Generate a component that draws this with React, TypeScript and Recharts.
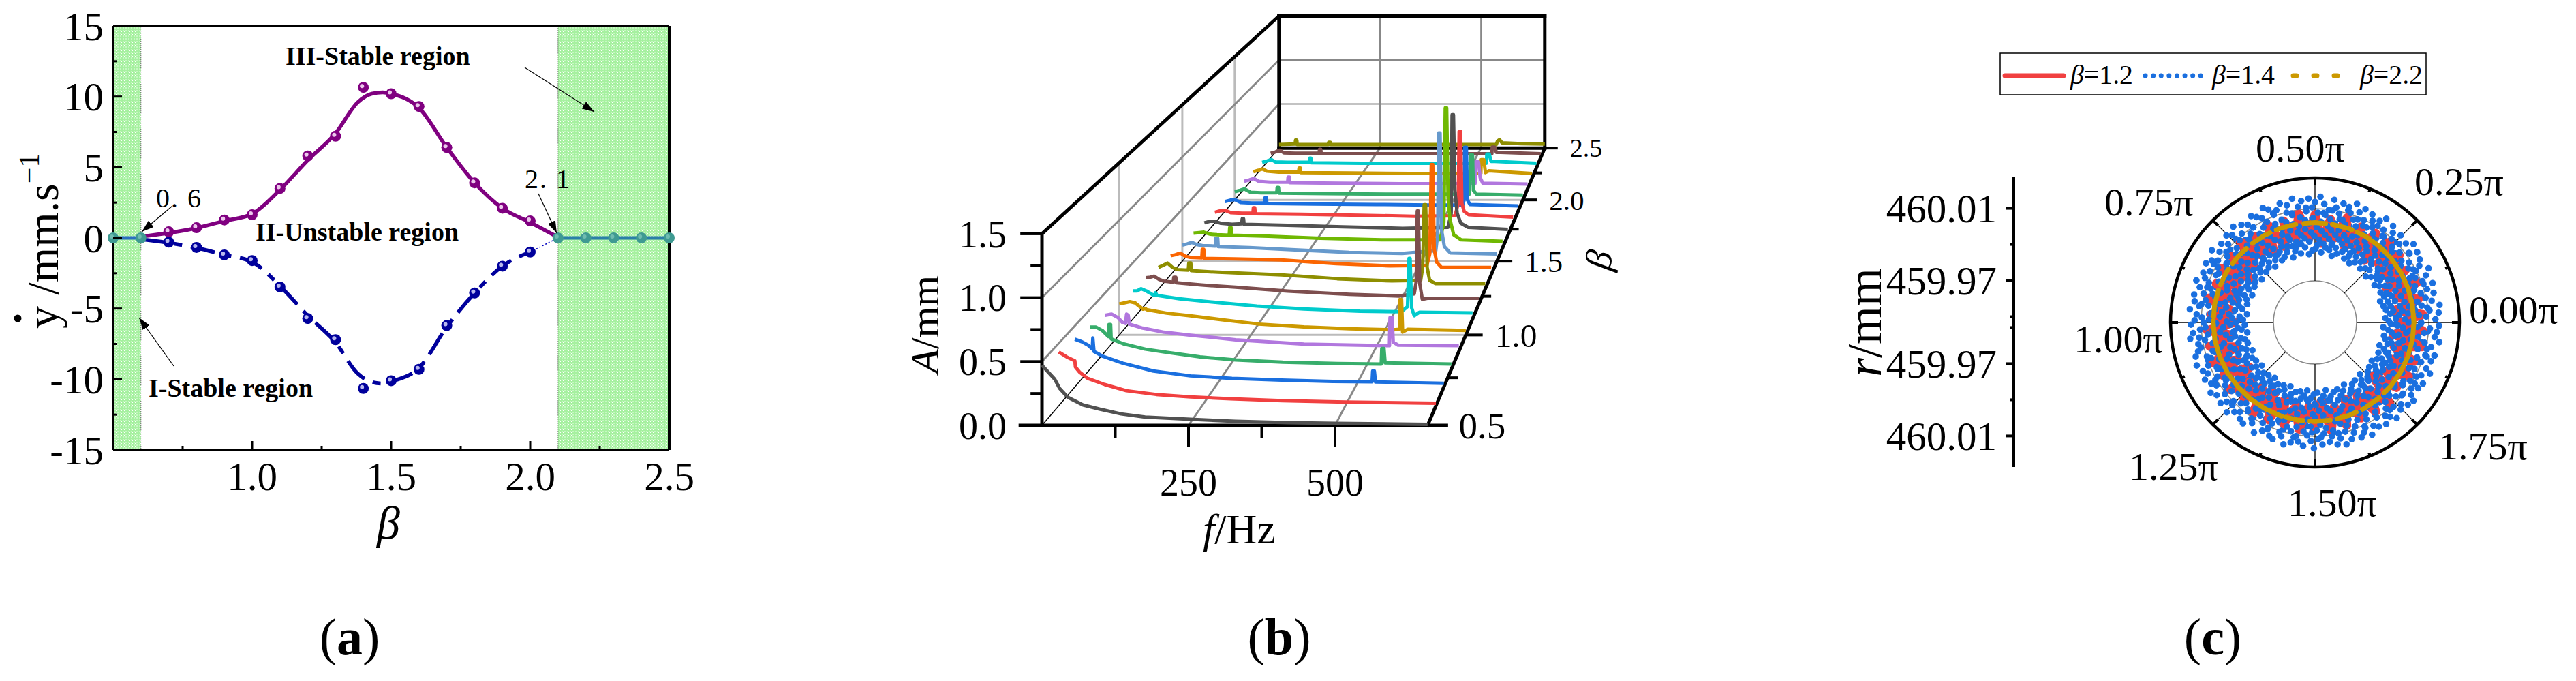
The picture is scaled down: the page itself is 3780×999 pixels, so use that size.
import React from 'react';
import {
  ComposedChart, LineChart, Line, XAxis, YAxis, ReferenceArea,
  RadarChart, Radar, PolarGrid, PolarAngleAxis, PolarRadiusAxis, Legend,
} from 'recharts';

const SERIF = '"Liberation Serif", "Times New Roman", serif';

// ---------- panel (a): phase-plane velocity against beta ----------
const betaPts = [0.7, 0.8, 0.9, 1.0, 1.1, 1.2, 1.3, 1.4, 1.5, 1.6, 1.7, 1.8, 1.9, 2.0];
const upperPts = [0.43, 0.72, 1.27, 1.64, 3.5, 5.8, 7.2, 10.65, 10.2, 9.3, 6.4, 3.9, 2.1, 1.2];
const lowerPts = [-0.3, -0.67, -1.2, -1.6, -3.47, -5.7, -7.2, -10.65, -10.1, -9.3, -6.2, -3.9, -2.0, -1.0];

const betaFit = [0.6, 0.7, 0.8, 0.9, 1.0, 1.1, 1.2, 1.3, 1.38, 1.43, 1.47, 1.5, 1.6, 1.7, 1.8, 1.9, 2.0, 2.1];
const upperFit = [0.1, 0.35, 0.7, 1.2, 1.7, 3.4, 5.5, 7.4, 9.6, 10.2, 10.3, 10.2, 9.2, 6.4, 3.9, 2.1, 1.1, 0.05];
const lowerFit = [-0.1, -0.35, -0.7, -1.2, -1.7, -3.4, -5.5, -7.4, -9.6, -10.2, -10.3, -10.15, -9.2, -6.3, -3.9, -2.0, -1.0];

const stableBeta = [0.5, 0.6, 2.1, 2.2, 2.3, 2.4, 2.5];
const stableVal = [0, 0, 0, 0, 0, 0, 0];

const betaAxisTicks = [0.5, 0.75, 1.0, 1.25, 1.5, 1.75, 2.0, 2.25, 2.5];
const velAxisTicks = [-15, -12.5, -10, -7.5, -5, -2.5, 0, 2.5, 5, 7.5, 10, 12.5, 15];

const zip = (xs: number[], ys: number[]) => ys.map((y, i) => ({ x: xs[i], y }));

const ball = (color: string, glint: string) => (p: any) => (
  <g key={p.index}>
    <circle cx={p.cx} cy={p.cy} r={8} fill={color} />
    <circle cx={p.cx - 2} cy={p.cy - 2} r={3} fill={glint} />
  </g>
);

const bottomTick = (p: any) => {
  const major = Number.isInteger(p.payload.value * 2);
  const show = major && p.payload.value > 0.5;
  return (
    <g>
      <line x1={p.x} x2={p.x} y1={p.y} y2={p.y - (major ? 13 : 6)} stroke="#000" strokeWidth={3} />
      {show && (
        <text x={p.x} y={p.y + 59} textAnchor="middle" fontFamily={SERIF} fontSize={59} fill="#000">
          {p.payload.value.toFixed(1)}
        </text>
      )}
    </g>
  );
};
const topTick = (p: any) => {
  const major = Number.isInteger(p.payload.value * 2);
  return <line x1={p.x} x2={p.x} y1={p.y} y2={p.y + (major ? 13 : 6)} stroke="#000" strokeWidth={3} />;
};
const leftTick = (p: any) => {
  const major = Number.isInteger(p.payload.value);
  return (
    <g>
      <line x1={p.x} x2={p.x + (major ? 13 : 6)} y1={p.y} y2={p.y} stroke="#000" strokeWidth={3} />
      {major && (
        <text x={p.x - 14} y={p.y} dy="0.35em" textAnchor="end" fontFamily={SERIF} fontSize={59} fill="#000">
          {p.payload.value}
        </text>
      )}
    </g>
  );
};
const rightTick = (p: any) => {
  const major = Number.isInteger(p.payload.value);
  return <line x1={p.x} x2={p.x - (major ? 13 : 6)} y1={p.y} y2={p.y} stroke="#000" strokeWidth={3} />;
};

function PanelA() {
  return (
    <div style={{ position: 'absolute', left: 0, top: 0 }}>
      <ComposedChart width={1050} height={999} margin={{ top: 0, right: 0, bottom: 0, left: 0 }}>
        <defs>
          <pattern id="hatch" width="4" height="4" patternUnits="userSpaceOnUse">
            <rect width="4" height="4" fill="#a6f0a0" />
            <rect width="2" height="2" fill="#c6f8c2" />
            <rect x="2" y="2" width="1" height="1" fill="#ffffff" />
          </pattern>
        </defs>
        <XAxis dataKey="x" type="number" domain={[0.5, 2.5]} ticks={betaAxisTicks} height={339} tick={bottomTick}
          tickLine={false} tickSize={0} tickMargin={0} interval={0} axisLine={{ stroke: '#000', strokeWidth: 4 }} />
        <XAxis xAxisId="top" orientation="top" dataKey="x" type="number" domain={[0.5, 2.5]} ticks={betaAxisTicks} height={38}
          tick={topTick} tickLine={false} tickSize={0} tickMargin={0} interval={0} axisLine={{ stroke: '#000', strokeWidth: 3 }} />
        <YAxis type="number" domain={[-15, 15]} ticks={velAxisTicks} width={166} tick={leftTick}
          tickLine={false} tickSize={0} tickMargin={0} interval={0} axisLine={{ stroke: '#000', strokeWidth: 3 }} />
        <YAxis yAxisId="right" orientation="right" type="number" domain={[-15, 15]} ticks={velAxisTicks} width={68} tick={rightTick}
          tickLine={false} tickSize={0} tickMargin={0} interval={0} axisLine={{ stroke: '#000', strokeWidth: 4 }} />
        <ReferenceArea x1={0.5} x2={0.6} y1={-15} y2={15} fill="url(#hatch)" fillOpacity={1} stroke="#444" strokeDasharray="1 2" />
        <ReferenceArea x1={2.1} x2={2.5} y1={-15} y2={15} fill="url(#hatch)" fillOpacity={1} stroke="#444" strokeDasharray="1 2" />
        <Line data={zip(betaFit, upperFit)} dataKey="y" type="monotone" stroke="#800080" strokeWidth={5.5} dot={false} isAnimationActive={false} />
        <Line data={zip(betaFit.slice(0, lowerFit.length), lowerFit)} dataKey="y" type="monotone" stroke="#00009c" strokeWidth={5.5}
          strokeDasharray="36 13 12 13" dot={false} isAnimationActive={false} />
        <Line data={[{ x: 2.0, y: -1.0 }, { x: 2.1, y: 0 }]} dataKey="y" stroke="#0000c0" strokeWidth={1.5} strokeDasharray="2 3" dot={false} isAnimationActive={false} />
        <Line data={zip([0.5, 0.6], [0, 0])} dataKey="y" stroke="#2a6fc0" strokeWidth={5} dot={false} isAnimationActive={false} />
        <Line data={zip([2.1, 2.5], [0, 0])} dataKey="y" stroke="#2a7fa8" strokeWidth={5} dot={false} isAnimationActive={false} />
        <Line data={zip(betaPts, upperPts)} dataKey="y" stroke="none" dot={ball('#800080', '#ecc8ec')} isAnimationActive={false} />
        <Line data={zip(betaPts, lowerPts)} dataKey="y" stroke="none" dot={ball('#00009c', '#b8b8ee')} isAnimationActive={false} />
        <Line data={zip(stableBeta, stableVal)} dataKey="y" stroke="none" dot={ball('#3f9a92', '#6fbcb0')} isAnimationActive={false} />
      </ComposedChart>
    </div>
  );
}

// ---------- panel (b): spectrum waterfall, [f in Hz, A in mm] per beta ----------
const amp05 = [[0, .47], [10, .42], [22, .36], [30, .29], [44, .22], [70, .16], [98, .128], [135, .09], [176, .065], [253, .048], [330, .032], [420, .022], [500, .016], [658, .008]];
const amp06 = [[0, .43], [14, .39], [28, .36], [29, .31], [36, .27], [50, .22], [80, .17], [118, .12], [170, .09], [230, .07], [300, .055], [390, .04], [500, .03], [658, .02]];
const amp07 = [[0, .39], [12, .37], [24, .34], [31, .31], [32, .40], [34, .29], [50, .25], [85, .195], [140, .13], [206, .09], [280, .07], [368, .056], [460, .045], [530, .042], [531, .13], [534, .13], [536, .04], [658, .03]];
const amp08 = [[0, .35], [10, .35], [22, .32], [33, .27], [34, .37], [37, .37], [38, .25], [60, .21], [100, .165], [141, .137], [200, .10], [265, .074], [350, .056], [450, .045], [530, .04], [531, .17], [535, .17], [537, .05], [658, .04]];
const amp09 = [[0, .31], [12, .32], [24, .29], [32, .25], [38, .24], [40, .32], [43, .31], [45, .235], [70, .20], [110, .165], [159, .14], [243, .10], [370, .064], [470, .055], [529, .05], [530, .29], [534, .29], [536, .08], [545, .055], [658, .05]];
const amp10 = [[0, .27], [10, .28], [20, .29], [30, .28], [38, .25], [45, .225], [50, .23], [52, .22], [90, .19], [135, .167], [200, .13], [265, .095], [350, .07], [437, .054], [520, .045], [532, .05], [533, .31], [536, .31], [538, .025], [548, .05], [658, .04]];
const amp11 = [[0, .25], [8, .25], [16, .27], [26, .25], [37, .22], [42, .21], [44, .235], [47, .21], [90, .18], [156, .15], [240, .115], [331, .09], [440, .07], [520, .065], [532, .11], [535, .54], [537, .54], [540, .10], [545, .03], [555, .06], [658, .055]];
const amp12 = [[0, .235], [8, .24], [16, .25], [26, .22], [35, .205], [54, .195], [55, .24], [59, .24], [60, .19], [110, .17], [177, .15], [280, .115], [402, .085], [500, .07], [530, .09], [534, .2], [536, .84], [538, .84], [541, .18], [546, .04], [556, .05], [658, .05]];
const amp13 = [[0, .20], [10, .22], [18, .24], [28, .20], [38, .18], [60, .175], [61, .24], [65, .24], [66, .17], [120, .155], [248, .13], [360, .095], [470, .075], [528, .08], [532, .2], [535, .78], [538, .78], [541, .2], [546, .08], [558, .05], [658, .05]];
const amp14 = [[0, .18], [10, .19], [20, .205], [30, .175], [40, .165], [64, .16], [65, .24], [68, .24], [69, .155], [130, .15], [227, .14], [340, .105], [450, .085], [526, .09], [532, .2], [535, 1.04], [538, 1.04], [541, .24], [546, .12], [556, .07], [658, .07]];
const amp15 = [[0, .155], [10, .165], [20, .18], [30, .16], [42, .15], [69, .145], [70, .22], [74, .22], [75, .14], [140, .13], [250, .105], [349, .085], [460, .075], [530, .1], [534, .26], [536, 1.23], [539, 1.23], [542, .3], [548, .14], [560, .08], [658, .07]];
const amp16 = [[0, .145], [12, .15], [22, .155], [36, .135], [50, .13], [76, .125], [77, .20], [80, .20], [81, .125], [160, .115], [270, .095], [400, .08], [525, .08], [533, .25], [536, 1.37], [539, 1.37], [542, .5], [546, .28], [554, .13], [570, .08], [658, .065]];
const amp17 = [[0, .125], [12, .14], [22, .14], [36, .12], [60, .11], [81, .115], [82, .165], [85, .165], [86, .11], [180, .10], [300, .085], [430, .07], [528, .08], [535, .22], [537, 1.2], [540, 1.2], [543, .45], [548, .22], [556, .12], [572, .08], [658, .06]];
const amp18 = [[0, .11], [12, .125], [22, .13], [36, .105], [60, .1], [84, .1], [85, .155], [88, .155], [89, .095], [190, .09], [320, .08], [440, .07], [530, .075], [537, .2], [539, .93], [542, .93], [545, .2], [550, .12], [560, .085], [658, .06]];
const amp19 = [[0, .10], [12, .115], [22, .12], [36, .09], [60, .085], [89, .085], [90, .14], [93, .14], [94, .08], [200, .075], [340, .07], [460, .065], [534, .065], [537, .12], [538, .66], [542, .66], [544, .12], [550, .07], [658, .055]];
const amp20 = [[0, .085], [12, .10], [22, .115], [36, .08], [60, .075], [96, .075], [97, .13], [100, .13], [101, .07], [210, .065], [350, .06], [470, .06], [536, .06], [538, .47], [543, .47], [545, .10], [552, .06], [658, .05]];
const amp21 = [[0, .08], [12, .095], [22, .11], [34, .08], [60, .07], [101, .07], [102, .125], [105, .125], [106, .065], [220, .06], [360, .055], [480, .055], [536, .055], [538, .29], [544, .29], [548, .12], [554, .06], [658, .05]];
const amp22 = [[0, .07], [12, .085], [22, .10], [32, .075], [60, .065], [107, .065], [108, .11], [111, .11], [112, .06], [230, .055], [370, .05], [490, .05], [537, .05], [538, .20], [544, .20], [548, .06], [556, .08], [658, .05]];
const amp23 = [[0, .06], [12, .075], [22, .09], [32, .065], [60, .06], [113, .06], [114, .105], [117, .105], [118, .055], [240, .05], [380, .05], [500, .05], [538, .05], [539, .15], [545, .15], [549, .07], [558, .07], [658, .05]];
const amp24 = [[0, .05], [12, .065], [22, .085], [32, .055], [60, .05], [118, .05], [119, .095], [122, .095], [123, .045], [250, .045], [390, .045], [510, .045], [539, .045], [540, .12], [546, .12], [550, .06], [560, .06], [658, .045]];
const amp25 = [[0, .04], [40, .045], [41, .09], [44, .09], [45, .04], [122, .04], [123, .065], [127, .065], [128, .04], [260, .04], [400, .04], [520, .04], [538, .04], [541, .08], [546, .095], [552, .06], [600, .05], [658, .045]];

const spectra = [amp05, amp06, amp07, amp08, amp09, amp10, amp11, amp12, amp13, amp14, amp15, amp16, amp17, amp18, amp19, amp20, amp21, amp22, amp23, amp24, amp25];
const palette = ['#515151', '#F14040', '#1A6FDF', '#37AD6B', '#B177DE', '#CC9900', '#00CBCC', '#7D4E4E', '#8E8E00', '#FB6501', '#6699CC', '#6FB802'];

const F_MAX = 658;
const freqTicks = [125, 250, 375, 500];
const ampTicks = [0, 0.25, 0.5, 0.75, 1.0, 1.25, 1.5];
const betaTicks = [0.5, 0.75, 1.0, 1.25, 1.5, 1.75, 2.0, 2.25, 2.5];

// box edges and grid lines, each end as [f, beta, A]
const boxEdges = [
  [[-37, 0.5, 0], [690, 0.5, 0]], [[0, 0.5, 0], [0, 0.5, 1.5]], [[0, 0.5, 1.5], [0, 2.5, 1.5]],
  [[F_MAX, 0.5, 0], [F_MAX, 2.5, 0]], [[0, 2.5, 0], [F_MAX, 2.5, 0]], [[0, 2.5, 0], [0, 2.5, 1.5]],
  [[0, 2.5, 1.5], [F_MAX, 2.5, 1.5]], [[F_MAX, 2.5, 0], [F_MAX, 2.5, 1.5]],
];
const darkGrid = [
  [[0, 0.5, 0.5], [0, 2.5, 0.5]], [[0, 0.5, 1], [0, 2.5, 1]],
  [[250, 0.5, 0], [250, 2.5, 0]], [[500, 0.5, 0], [500, 2.5, 0]],
  [[250, 2.5, 0], [250, 2.5, 1.5]], [[500, 2.5, 0], [500, 2.5, 1.5]],
  [[0, 2.5, 0.5], [F_MAX, 2.5, 0.5]], [[0, 2.5, 1], [F_MAX, 2.5, 1]],
];
const lightGrid = [
  [[0, 1, 0], [0, 1, 1.5]], [[0, 1.5, 0], [0, 1.5, 1.5]], [[0, 2, 0], [0, 2, 1.5]],
  [[0, 1, 0], [F_MAX, 1, 0]], [[0, 1.5, 0], [F_MAX, 1.5, 0]], [[0, 2, 0], [F_MAX, 2, 0]],
];

// oblique view with a vanishing point; gives chart coordinates in the front plane's own units
const PX_PER_HZ = 0.86;
const PX_PER_MM = 187.4;
const VP = { x: 1119 / PX_PER_HZ, y: (624 + 685) / PX_PER_MM };
const project = (f: number, beta: number, a: number) => {
  const s = 1 / (1 + 0.451 * (beta - 0.5) / 2);
  return { x: VP.x + (f - VP.x) * s, y: VP.y + (a - VP.y) * s, s };
};
const asRows = (seg: number[][]) => seg.map(([f, b, a]) => project(f, b, a));

const freqTick = (p: any) => {
  const major = p.payload.value % 250 === 0;
  return (
    <g>
      <line x1={p.x} x2={p.x} y1={p.y} y2={p.y + (major ? 31 : 18)} stroke="#000" strokeWidth={4} />
      {major && (
        <text x={p.x} y={p.y + 103} textAnchor="middle" fontFamily={SERIF} fontSize={56} fill="#000">
          {p.payload.value}
        </text>
      )}
    </g>
  );
};
const ampTick = (p: any) => {
  const major = Number.isInteger(p.payload.value * 2);
  return (
    <g>
      <line x1={p.x + (major ? 2.6 : 17.6)} x2={p.x + 34.4} y1={p.y} y2={p.y} stroke="#000" strokeWidth={4} />
      {major && (
        <text x={p.x - 17.6} y={p.y} dy="0.35em" textAnchor="end" fontFamily={SERIF} fontSize={56} fill="#000">
          {p.payload.value.toFixed(1)}
        </text>
      )}
    </g>
  );
};
const betaLabel = (p: any) => {
  const { beta, s } = p.payload;
  if (!Number.isInteger(beta * 2)) return <g key={p.index} />;
  return (
    <text key={p.index} x={p.cx + 18} y={p.cy} dy="0.35em" fontFamily={SERIF} fontSize={55 * s} fill="#000">
      {beta.toFixed(1)}
    </text>
  );
};

function PanelB() {
  const segLine = (seg: number[][], i: number, stroke: string, w: number, tag: string) => (
    <Line key={tag + i} data={asRows(seg)} dataKey="y" stroke={stroke} strokeWidth={w} strokeLinecap="square" dot={false} isAnimationActive={false} />
  );
  return (
    <div style={{ position: 'absolute', left: 1300, top: 0 }}>
      <ComposedChart width={1120} height={999} margin={{ top: 0, right: 90, bottom: 0, left: 0 }}>
        <XAxis dataKey="x" type="number" domain={[-40, 931.4]} ticks={freqTicks} height={375} tick={freqTick}
          tickLine={false} tickSize={0} tickMargin={0} axisLine={false} interval={0} />
        <YAxis type="number" domain={[0, 3.33]} ticks={ampTicks} width={194.6} tick={ampTick}
          tickLine={false} tickSize={0} tickMargin={0} axisLine={false} interval={0} />
        {lightGrid.map((s, i) => segLine(s, i, '#bbbbbb', 3, 'l'))}
        {darkGrid.map((s, i) => segLine(s, i, '#888888', i > 3 ? 2 : 3, 'd'))}
        {segLine([[0, 0.5, 0], [0, 2.5, 0]], 0, '#000000', 1.5, 'z')}
        {boxEdges.map((s, i) => segLine(s, i, '#000000', 5, 'b'))}
        {betaTicks.map((b) => (
          <Line key={'t' + b} data={asRows([[F_MAX, b, 0], [Number.isInteger(b * 2) ? 690 : F_MAX + 18, b, 0]])} dataKey="y"
            stroke="#000" strokeWidth={4} dot={false} isAnimationActive={false} />
        ))}
        <Line data={betaTicks.map((b) => ({ ...project(690, b, 0), beta: b }))} dataKey="y" stroke="none" dot={betaLabel} isAnimationActive={false} />
        {spectra.map((_, k) => {
          // draw from the back row forward
          const idx = spectra.length - 1 - k;
          const beta = 0.5 + idx * 0.1;
          return (
            <Line key={'w' + idx} data={spectra[idx].map(([f, a]) => project(f, beta, a))} dataKey="y"
              stroke={palette[idx % palette.length]} strokeWidth={5} strokeLinejoin="round" dot={false} isAnimationActive={false} />
          );
        })}
      </ComposedChart>
    </div>
  );
}

// ---------- panel (c): orbit radius in polar form, values are r - 459.97 in 1e-3 mm ----------
const R_ZERO = 459.97;
const R_MAX = 460.0274;
const orbit12 = [
  37, 22, 36, 24, 38, 21, 35, 23, 37, 25, 38, 21, 37, 24, 36, 22, 38, 25, 35, 21, 37, 24, 38, 25, 36, 22, 37, 23, 35, 25,
  38, 24, 36, 21, 37, 25, 36, 23, 38, 25, 35, 22, 37, 24, 37, 23, 38, 25, 36, 21, 37, 25, 35, 24, 38, 22, 37, 23, 36, 25,
  37, 24, 35, 21, 38, 25, 37, 23, 36, 24, 37, 25, 38, 21, 35, 25, 37, 24, 36, 23, 38, 21, 37, 25,
];
const orbit14 = [
  31, 18, 44, 27, 22, 39, 16, 35, 46, 24, 29, 41, 19, 33, 26, 47, 21, 37, 30, 17, 43, 25, 35, 20,
  40, 28, 16, 45, 32, 23, 38, 19, 42, 27, 34, 15, 46, 22, 30, 36, 18, 41, 25, 33, 20, 44, 28, 38,
  17, 35, 47, 23, 29, 40, 21, 32, 43, 26, 18, 37, 24, 45, 31, 16, 39, 27, 34, 22, 46, 19, 36, 29,
  42, 20, 33, 25, 47, 17, 38, 28, 23, 44, 31, 15, 35, 41, 26, 19, 37, 30, 45, 22, 33, 18, 40, 27,
  24, 43, 35, 16, 29, 46, 21, 38, 32, 19, 41, 26, 34, 23, 47, 28, 17, 36, 44, 20, 30, 39, 25, 15,
  42, 33, 22, 45, 27, 18, 37, 31, 40, 24, 16, 46, 29, 35, 21, 43, 26, 19, 38, 32, 47, 23, 28, 41,
  17, 34, 44, 25, 20, 36, 30, 15, 45, 27, 39, 22, 33, 18, 42, 29, 24, 46, 35, 19, 31, 40, 26, 21,
  37, 16, 43, 28, 33, 23, 47, 20, 38, 30, 18, 44, 25, 35, 41, 17, 27, 46, 32, 22, 39, 15, 34, 29,
  45, 24, 19, 36, 42, 26, 31, 21, 47, 28, 16, 38, 33, 23, 44, 20, 40, 30, 18, 35, 46, 25, 27, 37,
  15, 43, 32, 22, 29, 41, 19, 36, 45, 26, 23, 34, 47, 17, 39, 28, 21, 42, 31, 16, 37, 44, 24, 33,
  20, 46, 27, 35, 18, 40, 30, 22, 43, 25, 15, 38, 32, 45, 19, 29, 36, 23, 41, 17, 47, 26, 34, 21,
  39, 28, 44, 16, 31, 24, 46, 20, 37, 33, 18, 42, 27, 35, 22, 45, 30, 15, 40, 25, 19, 38, 43, 29,
  23, 47, 32, 17, 36, 26, 41, 21, 34, 44, 16, 28, 39, 24, 46, 20, 31, 37, 18, 42, 27, 33, 22, 45,
  15, 35, 30, 43, 25, 19, 40, 29, 47, 23, 17, 38, 32, 44, 21, 26, 36, 16, 41, 34, 24, 46, 28, 20,
  39, 31, 18, 45, 27, 37, 22, 42, 33, 15, 29, 47, 25, 35, 19, 43, 30, 23, 40, 17, 36, 44, 26, 21,
  32, 46, 24, 16, 38, 28, 41, 20, 34, 45, 18, 30, 37, 23, 47, 27, 15, 39, 33, 22, 43, 25, 35, 19,
  42, 29, 17, 44, 31, 21, 36, 46, 26, 16, 40, 33, 24, 38, 20, 47, 28, 34, 18, 41, 30, 23, 45, 15,
  37, 27, 43, 19, 35, 25, 46, 22, 32, 39, 17, 29, 44, 21, 36, 26, 42, 16, 33, 47, 24, 38, 20, 30,
  45, 18, 34, 28, 41, 15, 37, 23, 46, 31, 19, 43, 26, 35, 22, 40, 17, 29, 47, 25, 33, 20, 38, 44,
  16, 27, 36, 42, 21, 32, 24, 45, 18, 39, 30, 15, 46, 28, 35, 23, 41, 19, 34, 43, 26, 17, 37, 31,
  22, 47, 29, 20, 40, 33, 16, 44, 25, 36, 18, 42, 27, 38, 21, 45, 31, 15, 35, 46, 24, 30, 19, 41,
  34, 23, 43, 28, 17, 37, 47, 22, 32, 26, 39, 16, 45, 29, 20, 36, 41, 25, 18, 44, 33, 27, 15, 38,
  46, 21, 31, 40, 24, 19, 35, 43, 28, 17, 47, 30, 23, 37, 42, 16, 26, 34, 45, 20, 39, 29, 22, 36,
  18, 44, 32, 25, 41, 15, 38, 27, 46, 21, 33, 19, 43, 30, 24, 35, 47, 17, 40, 28, 22, 37, 45, 26,
  16, 34, 42, 20, 31, 39, 23, 46, 18, 29, 36, 44, 25, 15, 41, 33, 21, 47, 27, 38, 19, 35, 43, 24,
  30, 17, 45, 32, 22, 40, 26, 37, 16, 46, 28, 34, 20, 42, 23, 31, 44, 18, 39, 25, 47, 15, 36, 29,
  21, 41, 33, 19, 45, 27, 35, 24, 43, 17, 38, 30, 46, 22, 26, 40, 16, 34, 47, 20, 32, 44, 28, 18,
  37, 23, 42, 15, 36, 29, 45, 21, 39, 25, 17, 33, 46, 27, 19, 41, 31, 24, 43, 35, 16, 38, 22, 47,
  30, 20, 44, 26, 34, 18, 40, 28, 15, 37, 45, 23, 32, 42, 19, 29, 46, 21, 36, 25, 41, 17, 33, 43,
  27, 16, 39, 31, 22, 47, 24, 35, 20, 44, 28, 18, 38, 30, 45, 15, 26, 41, 34, 23, 46, 19, 36, 29,
];
// the part of the beta=1.4 scatter that sits behind the beta=1.2 trace
const orbit14Under = [
  28, 36, 22, 31, 40, 25, 33, 20, 38, 29, 24, 35, 41, 21, 30, 27, 37, 23, 39, 32, 26, 20, 34, 42, 28, 22, 36, 31, 25, 40,
  23, 33, 29, 38, 21, 35, 27, 41, 24, 30, 37, 20, 32, 26, 39, 22, 34, 28, 42, 25, 36, 21, 31, 40, 27, 23, 38, 33, 20, 29,
  35, 24, 41, 26, 30, 37, 22, 39, 28, 32, 21, 36, 25, 42, 34, 23, 29, 38, 20, 31, 27, 40, 24, 33, 35, 22, 37, 26, 41, 30,
  21, 28, 39, 23, 34, 25, 36, 32, 20, 42, 27, 31, 38, 24, 29, 22, 35, 40, 26, 33, 21, 37, 28, 41, 23, 30, 36, 25, 20, 39,
  32, 27, 34, 22, 42, 29, 24, 38, 31, 21, 35, 26, 40, 23, 33, 28, 37, 20, 30, 41, 25, 36, 22, 32, 39, 27, 24, 34, 21, 42,
  29, 35, 23, 31, 38, 26, 20, 40, 28, 33, 22, 37, 25, 41, 30, 24, 36, 21, 39, 27, 32, 23, 42, 34, 26, 20, 35, 29, 38, 22,
  31, 41, 25, 28, 37, 21, 33, 40, 24, 30, 36, 27, 20, 39, 32, 23, 42, 26, 35, 22, 29, 38, 31, 25, 21, 34, 41, 28, 37, 24,
  33, 20, 30, 40, 23, 36, 27, 32, 42, 22, 39, 26, 29, 35, 21, 38, 25, 31, 41, 24, 34, 20, 37, 28, 33, 23, 40, 30, 22, 36,
];
const orbit22 = [32.0, 32.1, 32.2, 32.3, 32.4, 32.5, 32.5, 32.4, 32.5, 32.6, 32.8, 33.0, 33.2, 33.4, 33.6, 33.7, 33.7, 33.6, 33.5, 33.3, 33.1, 32.8, 32.6, 32.4, 32.3, 32.1, 32.0, 32.0, 32.0, 32.1, 32.0, 32.0, 32.0, 32.0, 32.0, 32.0];

const angleNames = ['0.00π', '', '0.25π', '', '0.50π', '', '0.75π', '', '1.00π', '', '1.25π', '', '1.50π', '', '1.75π', ''];
const radiusTicks = [0.063, 0.043, 0.023, 0.003, -0.003, -0.023, -0.043, -0.063];
const RADIUS_CENTRE = 459.947;
const legendItems = ['β=1.2', 'β=1.4', 'β=2.2'];

const POLAR_W = 880;
const POLAR_H = 800;
const CX = 497;
const CY = 473;
const R_IN = 61;
const R_OUT = 212;
// label start and baseline measured from the circle centre
const labelAt: Record<number, number[]> = {
  0: [226, 1], 2: [146, -187], 4: [-87, -236], 6: [-309, -157],
  8: [-354, 44], 10: [-273, 231], 12: [-40, 284], 14: [181, 201],
};

const angleTick = (p: any) => {
  const i = p.index;
  const a = (i * 22.5 * Math.PI) / 180;
  const len = i % 2 === 0 ? 11 : 5;
  const at = labelAt[i];
  return (
    <g>
      <line x1={CX + R_OUT * Math.cos(a)} y1={CY - R_OUT * Math.sin(a)} x2={CX + (R_OUT - len) * Math.cos(a)} y2={CY - (R_OUT - len) * Math.sin(a)} stroke="#000" strokeWidth={4} />
      {at && (
        <text x={CX + at[0]} y={CY + at[1]} fontFamily={SERIF} fontSize={58} fill="#000">{angleNames[i]}</text>
      )}
    </g>
  );
};

const legendBox = () => (
  <svg width={628} height={64} style={{ display: 'block' }}>
    <rect x={1} y={1} width={625} height={61} fill="#fff" stroke="#000" strokeWidth={1.5} />
    <line x1={8} x2={94} y1={34} y2={34} stroke="#F14040" strokeWidth={7} strokeLinecap="round" />
    <line x1={214} x2={300} y1={34} y2={34} stroke="#1A6FDF" strokeWidth={7} strokeLinecap="round" strokeDasharray="0.1 11.5" />
    <line x1={431} x2={498} y1={34} y2={34} stroke="#CC9900" strokeWidth={7} strokeLinecap="round" strokeDasharray="5 25" />
    {legendItems.map((t, i) => (
      <text key={t} x={[104, 312, 529][i]} y={46} fontFamily={SERIF} fontSize={40} textLength={92} lengthAdjust="spacingAndGlyphs" fill="#000">
        <tspan fontStyle="italic">β</tspan>{t.slice(1)}
      </text>
    ))}
  </svg>
);

const radiusTick = (p: any) => {
  const v = Math.abs(p.payload.value);
  const major = v === 0.063 || v === 0.023;
  return (
    <g>
      <line x1={p.x - (major ? 12 : 5)} x2={p.x} y1={p.y} y2={p.y} stroke="#000" strokeWidth={4} />
      {major && (
        <text x={p.x - 25} y={p.y} dy="0.35em" textAnchor="end" fontFamily={SERIF} fontSize={59} fill="#000">
          {(RADIUS_CENTRE + v).toFixed(2)}
        </text>
      )}
    </g>
  );
};

const blueDot = (p: any) => <circle key={p.index} cx={p.cx} cy={p.cy} r={4.8} fill="#1A6FDF" />;

function OrbitLayer({ values, children }: { values: number[]; children: React.ReactNode }) {
  const rows = values.map((v, i) => ({ i, r: R_ZERO + v / 1000 }));
  return (
    <div style={{ position: 'absolute', left: 2900, top: 0 }}>
      <RadarChart width={POLAR_W} height={POLAR_H} data={rows} cx={CX} cy={CY} innerRadius={R_IN} outerRadius={R_OUT}
        startAngle={0} endAngle={360} margin={{ top: 0, right: 0, bottom: 0, left: 0 }}>
        <PolarAngleAxis dataKey="i" tick={false} tickLine={false} axisLine={false} />
        <PolarRadiusAxis domain={[R_ZERO, R_MAX]} tick={false} axisLine={false} tickLine={false} />
        {children}
      </RadarChart>
    </div>
  );
}

function PanelC() {
  const frameRows = angleNames.map((name, i) => ({ name: name || String(i), r: R_ZERO }));
  return (
    <>
      <div style={{ position: 'absolute', left: 2760, top: 0 }}>
        <LineChart width={200} height={999} data={radiusTicks.map((v, i) => ({ i, v }))} margin={{ top: 260, right: 5, bottom: 314, left: 0 }}>
          <XAxis dataKey="i" hide />
          <YAxis type="number" domain={[-0.0802, 0.0802]} ticks={radiusTicks} width={195} tick={radiusTick}
            tickLine={false} tickSize={0} tickMargin={0} interval={0} axisLine={{ stroke: '#000', strokeWidth: 4 }} />
          <Line dataKey="v" stroke="none" dot={false} isAnimationActive={false} />
        </LineChart>
      </div>
      <div style={{ position: 'absolute', left: 2900, top: 0 }}>
        <RadarChart width={POLAR_W} height={POLAR_H} data={frameRows} cx={CX} cy={CY} innerRadius={R_IN} outerRadius={R_OUT}
          startAngle={0} endAngle={360} margin={{ top: 0, right: 0, bottom: 0, left: 0 }}>
          <PolarGrid gridType="circle" polarRadius={[R_IN, 167]} polarAngles={[]} stroke="#888888" strokeWidth={1.5} />
          <PolarGrid radialLines polarRadius={[]} polarAngles={[0, 45, 90, 135, 180, 225, 270, 315]} stroke="#000000" strokeWidth={1.3} />
          <PolarAngleAxis dataKey="name" axisLineType="circle" tick={angleTick} tickLine={false} tickSize={0}
            axisLine={{ stroke: '#000', strokeWidth: 4.5 }} />
          <PolarRadiusAxis domain={[R_ZERO, R_MAX]} tick={false} axisLine={false} tickLine={false} />
          <Legend content={legendBox} wrapperStyle={{ left: 34, top: 77, bottom: 'auto', width: 628, height: 64 }} />
        </RadarChart>
      </div>
      <OrbitLayer values={orbit14Under}>
        <Radar dataKey="r" stroke="none" fill="none" dot={blueDot} isAnimationActive={false} />
      </OrbitLayer>
      <OrbitLayer values={orbit12}>
        <Radar dataKey="r" stroke="#F14040" strokeWidth={13} fill="none" strokeLinejoin="round" dot={false} isAnimationActive={false} />
      </OrbitLayer>
      <OrbitLayer values={orbit14}>
        <Radar dataKey="r" stroke="none" fill="none" dot={blueDot} isAnimationActive={false} />
      </OrbitLayer>
      <OrbitLayer values={orbit22}>
        <Radar dataKey="r" stroke="#CC9900" strokeWidth={7} fill="none" strokeLinecap="round"
          strokeDasharray="140 8 30 10 32 12 30 10 30 12 30 10 26 8 40 6 184 6 26 10 30 10 30 10 30 10 160" dot={false} isAnimationActive={false} />
      </OrbitLayer>
    </>
  );
}

// ---------- titles, captions and arrow notes ----------
function Notes() {
  const t = { fontFamily: SERIF, fill: '#000' };
  const bold = { ...t, fontSize: 38, fontWeight: 700 };
  const arrow = { stroke: '#000', strokeWidth: 1.2, markerEnd: 'url(#head)' };
  return (
    <svg width={3780} height={999} style={{ position: 'absolute', left: 0, top: 0, pointerEvents: 'none' }}>
      <defs>
        <marker id="head" markerUnits="userSpaceOnUse" markerWidth="20" markerHeight="12" refX="18" refY="6" orient="auto">
          <path d="M0 0 L18 6 L0 12 Z" fill="#000" />
        </marker>
      </defs>
      <text {...bold} x={419} y={95}>III-Stable region</text>
      <text {...bold} x={375} y={353}>II-Unstable region</text>
      <text {...bold} x={218} y={582}>I-Stable region</text>
      <text {...t} fontSize={40} letterSpacing={2} x={229} y={304}>0. 6</text>
      <text {...t} fontSize={40} letterSpacing={2} x={770} y={276}>2. 1</text>
      <line x1={253} y1={302} x2={208} y2={340} {...arrow} />
      <line x1={255} y1={537} x2={204} y2={466} {...arrow} />
      <line x1={770} y1={99} x2={872} y2={164} {...arrow} />
      <line x1={790} y1={284} x2={817} y2={342} {...arrow} />
      <circle cx={26} cy={467} r={5.5} fill="#000" />
      <text {...t} fontSize={66} transform="translate(85,482) rotate(-90)">
        y /mm.s<tspan fontSize={42} dy={-28}>−1</tspan>
      </text>
      <text {...t} fontSize={68} fontStyle="italic" x={553} y={790}>β</text>

      <text {...t} fontSize={59} transform="translate(1377,548) rotate(-90)">
        <tspan fontStyle="italic">A</tspan>/mm
      </text>
      <text {...t} fontSize={62} x={1765} y={797}>
        <tspan fontStyle="italic">f</tspan>/Hz
      </text>
      <text {...t} fontSize={55} fontStyle="italic" transform="translate(2362,398) rotate(-80)">β</text>

      <text {...t} fontSize={72} textAnchor="middle" transform="translate(2760,473) rotate(-90)">
        <tspan fontStyle="italic">r</tspan>/mm
      </text>

      {[['a', 513], ['b', 1877], ['c', 3247]].map(([c, x]) => (
        <text key={c} {...t} fontSize={76} textAnchor="middle" x={x} y={960}>
          (<tspan fontWeight={700}>{c}</tspan>)
        </text>
      ))}
    </svg>
  );
}

export default function App() {
  return (
    <div style={{ position: 'absolute', left: 0, top: 0, width: 3780, height: 999, background: '#fff', overflow: 'hidden' }}>
      <PanelA />
      <PanelB />
      <PanelC />
      <Notes />
    </div>
  );
}
